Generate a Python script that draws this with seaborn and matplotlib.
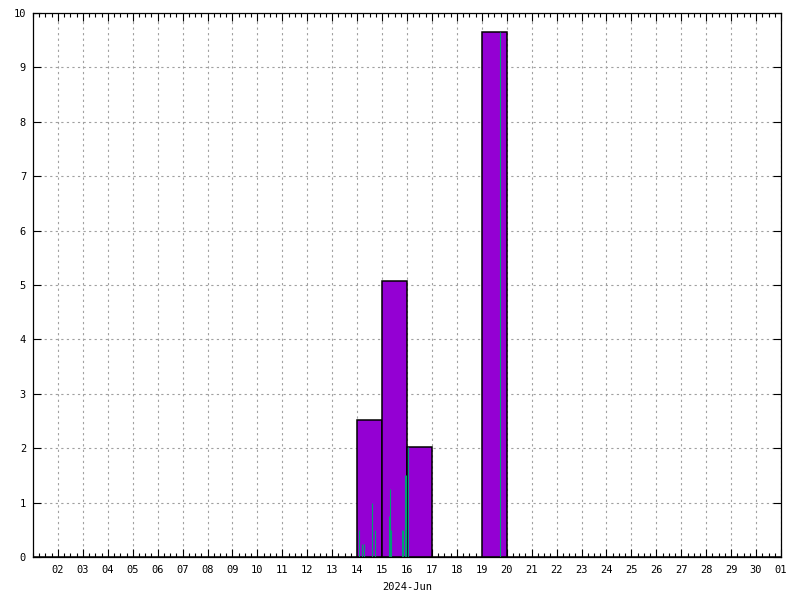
import numpy as np
import pandas as pd
import matplotlib
matplotlib.use("Agg")
import matplotlib.pyplot as plt
import matplotlib.dates as mdates
import matplotlib.ticker as mticker
import seaborn as sns

# ---- data ----
rain_days = ["2024-06-14", "2024-06-15", "2024-06-16", "2024-06-19"]
rain_daily = [2.52, 5.07, 2.02, 9.65]

rain_hour_times = [
    "2024-06-14 02:00", "2024-06-14 05:00", "2024-06-14 07:00",
    "2024-06-14 14:00", "2024-06-14 17:30",
    "2024-06-15 07:00", "2024-06-15 08:00", "2024-06-15 09:00",
    "2024-06-15 19:30", "2024-06-15 20:30", "2024-06-15 22:30",
    "2024-06-15 23:30", "2024-06-16 00:40",
    "2024-06-19 17:50",
]
rain_hourly = [0.50, 0.24, 0.24, 1.00, 0.50,
               0.75, 1.25, 0.50,
               0.50, 0.50, 1.50, 1.50, 2.02,
               9.65]

x_start = "2024-06-01"
x_end = "2024-07-01"
x_label = "2024-Jun"
y_ticks = list(range(0, 11))

# ---- plotting ----
sns.set_theme(style="white")
plt.rcParams['font.family'] = ['DejaVu Sans Mono', 'DejaVu Sans']

fig = plt.figure(figsize=(8, 6), dpi=100)
ax = fig.add_axes([33 / 800, 43 / 600, 748 / 800, 544 / 600])

start_num = float(mdates.date2num(pd.Timestamp(x_start)))
end_num = float(mdates.date2num(pd.Timestamp(x_end)))
day_centers = mdates.date2num(pd.to_datetime(rain_days)) + 0.5

df = pd.DataFrame({"day": day_centers, "rain": rain_daily})
sns.histplot(data=df, x="day", weights="rain", binwidth=1.0,
             binrange=(start_num, end_num),
             color="#9400D3", alpha=1.0, edgecolor="black", linewidth=1.1,
             ax=ax, zorder=2)

hour_nums = mdates.date2num(pd.to_datetime(rain_hour_times))
ax.vlines(hour_nums, 0, rain_hourly, colors="#009E73", linewidth=0.8, zorder=3)

ax.set_xlim(start_num, end_num)
ax.set_ylim(0, 10)

major_days = mdates.date2num(pd.date_range("2024-06-02", x_end, freq="D"))
ax.xaxis.set_major_locator(mticker.FixedLocator(major_days))
ax.xaxis.set_major_formatter(mdates.DateFormatter("%d"))
ax.xaxis.set_minor_locator(mticker.MultipleLocator(0.25))
ax.yaxis.set_major_locator(mticker.FixedLocator(y_ticks))

ax.tick_params(axis="both", which="major", direction="in", length=5.5, width=0.8,
               color="black", labelsize=7.5, labelcolor="black",
               top=True, right=True, bottom=True, left=True)
ax.tick_params(axis="x", which="minor", direction="in", length=2.8, width=0.8,
               color="black", top=True, bottom=True)
ax.tick_params(axis="x", which="major", pad=6)
ax.tick_params(axis="y", which="major", pad=5)

ax.grid(True, which="major", color="#a0a0a0", linestyle=(0, (2, 3)), linewidth=0.8)
ax.set_axisbelow(True)

for sp in ax.spines.values():
    sp.set_color("black")
    sp.set_linewidth(0.9)
    sp.set_zorder(4)

ax.set_xlabel(x_label, fontsize=7.5, labelpad=5, color="black")
ax.set_ylabel("")

fig.savefig("out.png", dpi=100, facecolor="white")
